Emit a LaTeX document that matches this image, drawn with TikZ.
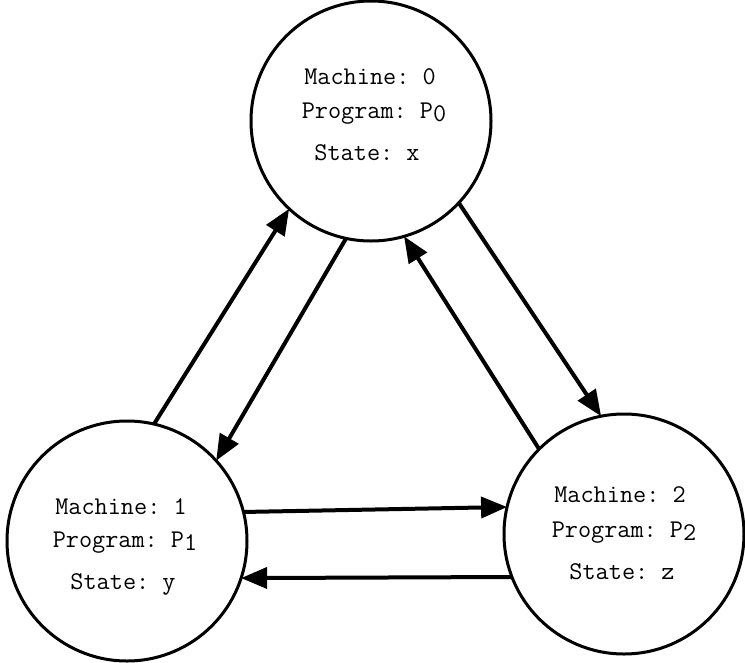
\documentclass[tikz,border=0pt]{standalone}
\usetikzlibrary{arrows.meta}
\newcommand{\low}[1]{\raisebox{-0.15em}{#1}}
\begin{document}
\begin{tikzpicture}[x=1pt,y=-1pt,
  machine/.style={circle,draw,line width=3pt,minimum size=240pt,inner sep=0pt,outer sep=0pt},
  lbl/.style={font=\ttfamily\frenchspacing\fontsize{25.5}{30}\selectfont,inner sep=0pt,anchor=base},
  link/.style={line width=4pt,-{Triangle[length=26pt,width=21pt]}}]
\useasboundingbox (0,0) rectangle (745,662);

% the three machines
\node[machine] (m0) at (371,121) {};
\node[machine] (m1) at (127,541) {};
\node[machine] (m2) at (624,534) {};

% labels inside each machine
\node[lbl] (m0a) at (370,84) {Machine: 0};
\node[lbl] (m0b) at (374,118) {Program: P\low{0}};
\node[lbl] (m0c) at (367,160) {State: x};

\node[lbl] (m1a) at (121,514) {Machine: 1};
\node[lbl] (m1b) at (125,547) {Program: P\low{1}};
\node[lbl] (m1c) at (123,589) {State: y};

\node[lbl] (m2a) at (620,502) {Machine: 2};
\node[lbl] (m2b) at (624,537) {Program: P\low{2}};
\node[lbl] (m2c) at (622,579) {State: z};

% message channels between the machines
\draw[link] (m1.77) -- (m0.227);
\draw[link] (m0.258) -- (m1.42);
\draw[link] (m0.317) -- (m2.101);
\draw[link] (m2.135) -- (m0.286);
\draw[link] (m1.14.5) -- (m2.167);
\draw[link] (m2.201) -- (m1.342.5);
\end{tikzpicture}
\end{document}
